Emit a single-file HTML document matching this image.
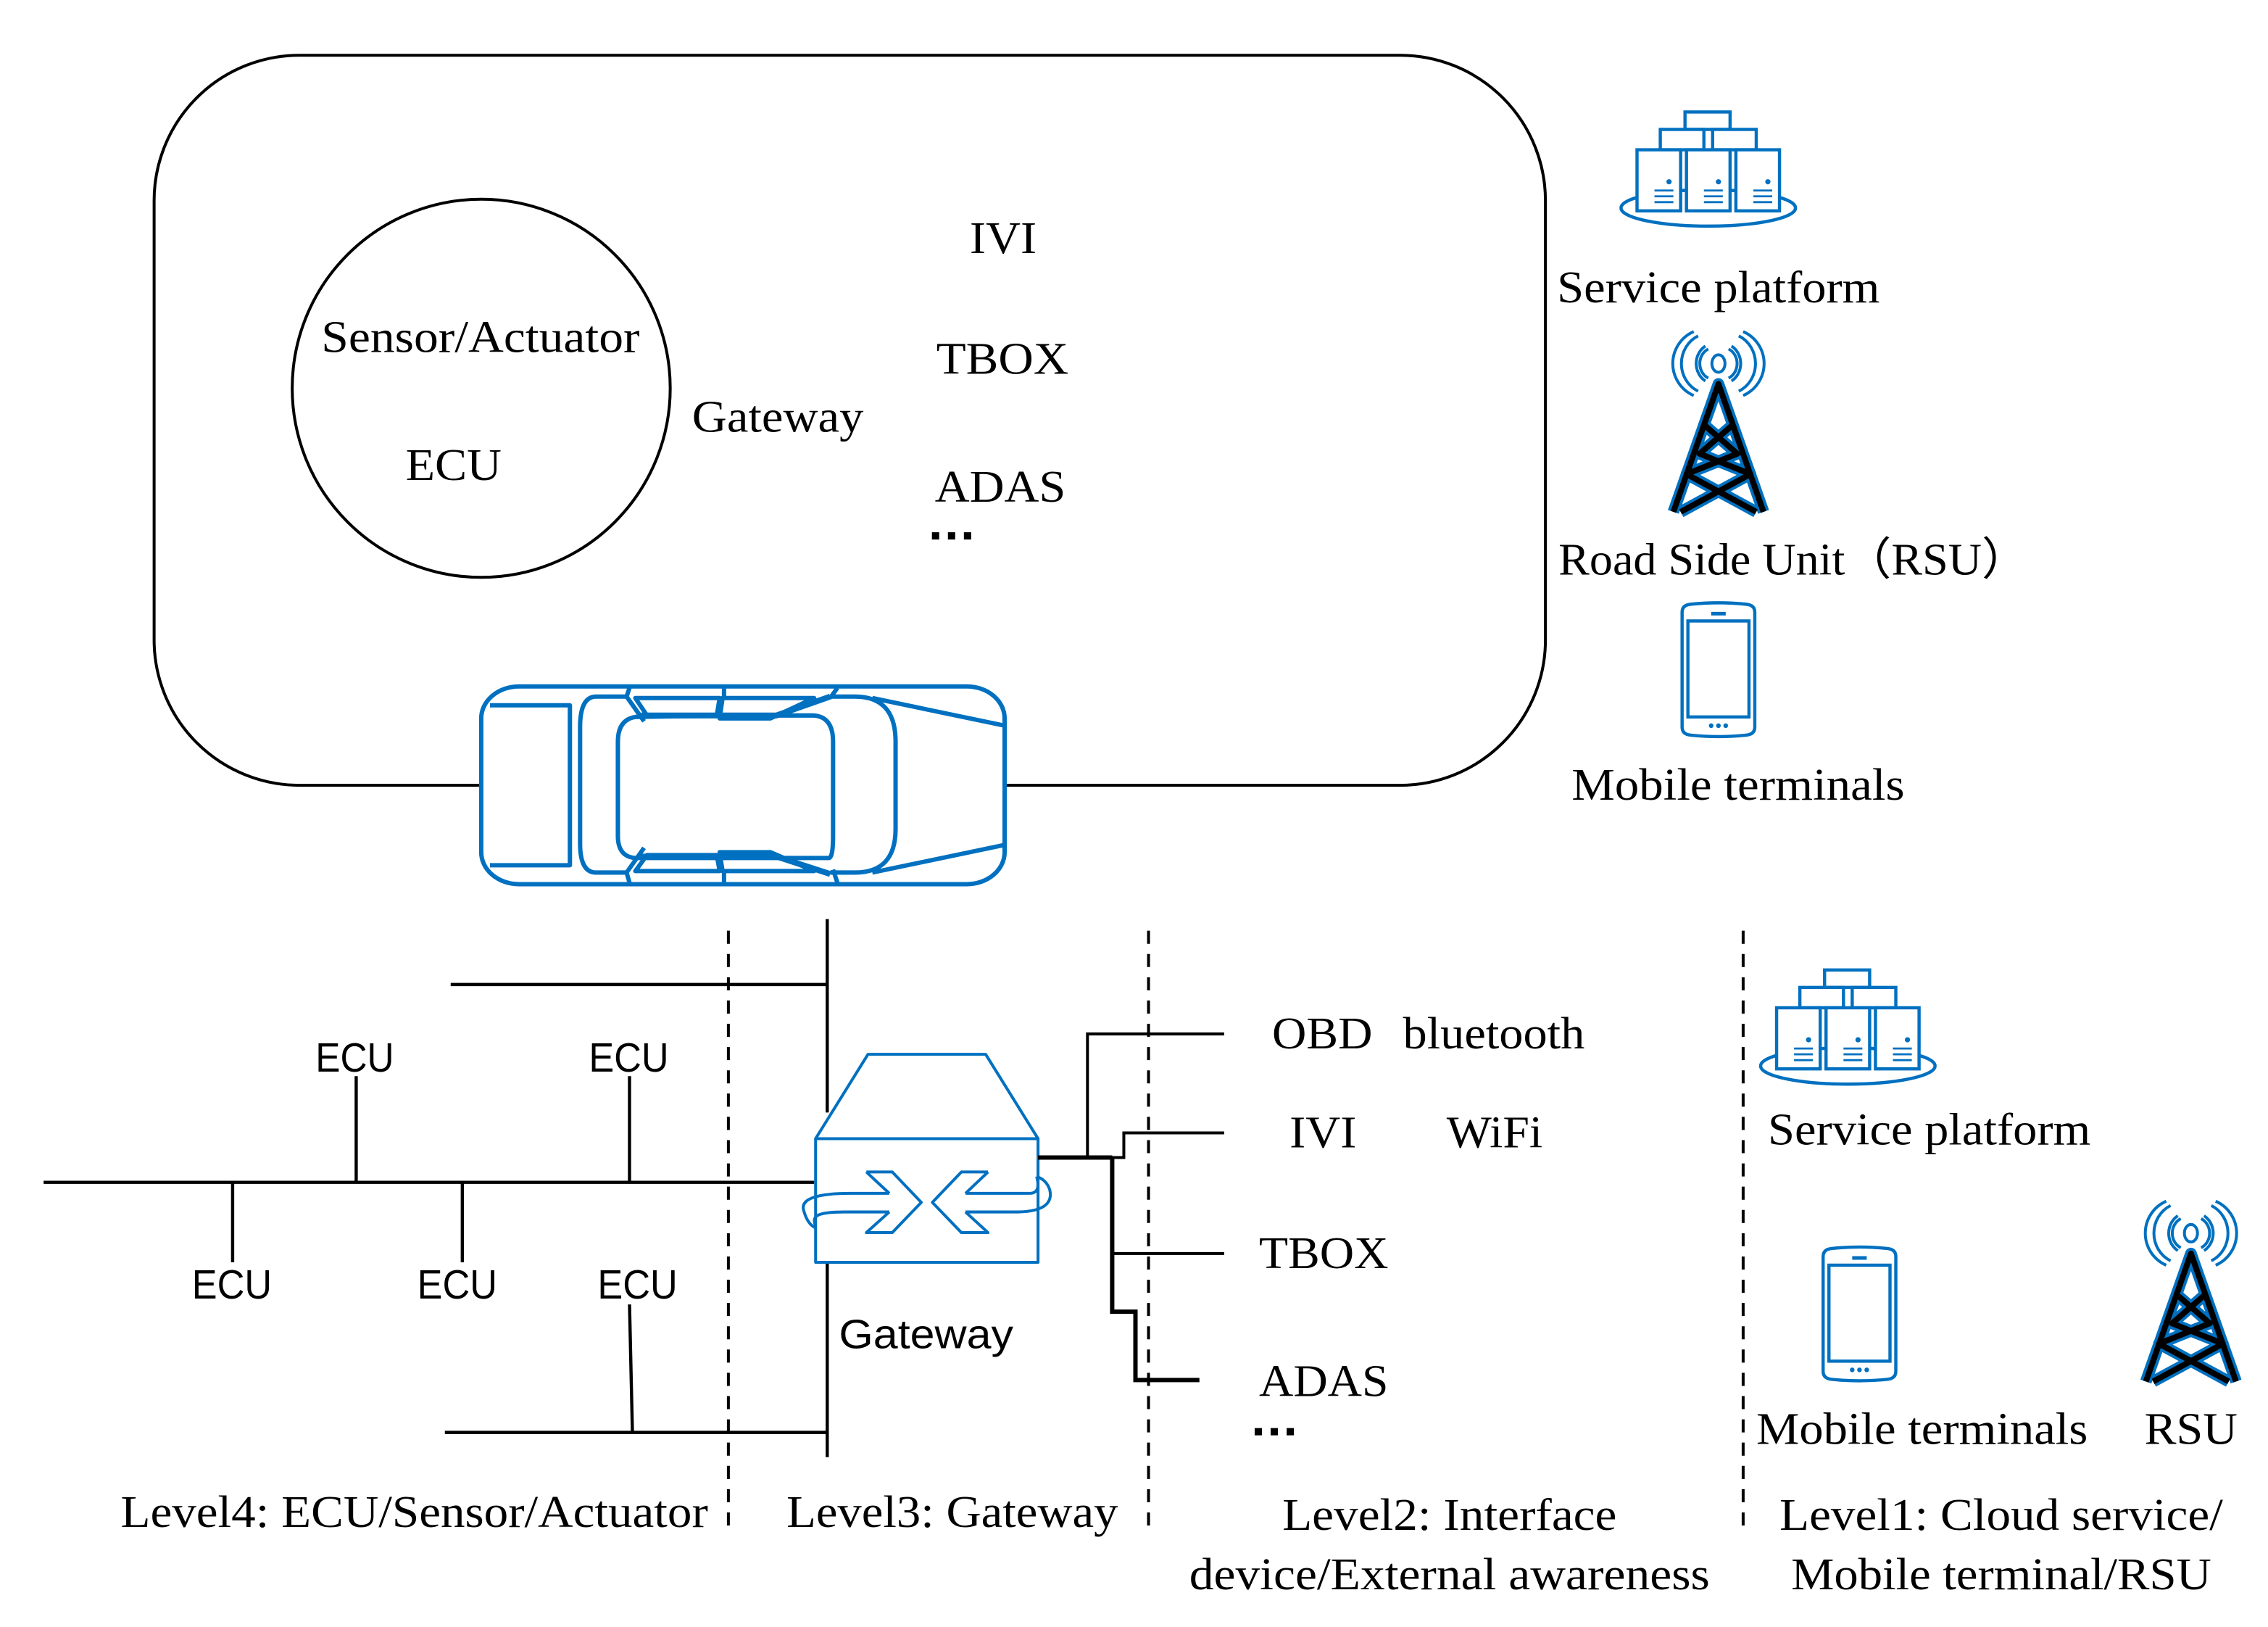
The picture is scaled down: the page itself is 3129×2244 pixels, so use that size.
<!DOCTYPE html>
<html><head><meta charset="utf-8"><style>
html,body{margin:0;padding:0;background:#fff;}
svg{display:block;}
.s{font-family:"Liberation Serif",serif;font-size:31px;fill:#000;}
.a{font-family:"Liberation Sans",sans-serif;font-size:28px;fill:#000;}
</style></head><body>
<svg width="3129" height="2244" viewBox="0 0 1560 1118.8" preserveAspectRatio="none" xmlns="http://www.w3.org/2000/svg">
<defs>
<g id="srv" fill="#fff" stroke="#0070C0" stroke-width="2.2">
  <ellipse cx="0" cy="0" rx="60" ry="12.5"/>
  <rect x="-16" y="-66" width="31" height="12"/>
  <rect x="-33" y="-54" width="30" height="14"/>
  <rect x="3" y="-54" width="30" height="14"/>
  <rect x="-49" y="-40" width="30" height="42"/>
  <rect x="-15" y="-40" width="30" height="42"/>
  <rect x="19" y="-40" width="30" height="42"/>
  <g fill="#0070C0" stroke="none">
   <circle cx="-27" cy="-18" r="1.8"/><circle cx="7" cy="-18" r="1.8"/><circle cx="41" cy="-18" r="1.8"/>
  </g>
  <path d="M-37,-12h13M-37,-8h13M-37,-4h13M-3,-12h13M-3,-8h13M-3,-4h13M31,-12h13M31,-8h13M31,-4h13" stroke-width="1.4"/>
</g>
<g id="twr">
  <g fill="none" stroke="#0070C0" stroke-width="2">
    <ellipse cx="0" cy="-14" rx="4.5" ry="6"/>
    <path d="M-9,-26 A13,14 0 0 0 -9,-2 M-7,-24 A10,11 0 0 0 -7,-4"/>
    <path d="M9,-26 A13,14 0 0 1 9,-2 M7,-24 A10,11 0 0 1 7,-4"/>
    <path d="M-17,-36 A24,24 0 0 0 -17,8 M-14,-33 A20,21 0 0 0 -14,5"/>
    <path d="M17,-36 A24,24 0 0 1 17,8 M14,-33 A20,21 0 0 1 14,5"/>
  </g>
  <g fill="none" stroke-linejoin="round">
    <path d="M-31,88 L0,0 L31,88 M-10,28 L13,48 L-22,62 L26,88 M10,28 L-13,48 L22,62 L-26,88" stroke="#0070C0" stroke-width="8"/>
    <path d="M-31,88 L0,0 L31,88 M-10,28 L13,48 L-22,62 L26,88 M10,28 L-13,48 L22,62 L-26,88" stroke="#000" stroke-width="4"/>
  </g>
</g>
<g id="ph" fill="none" stroke="#0070C0" stroke-width="2.2">
  <path d="M0,6 Q0,1 6,0.5 Q25,-1.5 44,0.5 Q50,1 50,6 V85 Q50,90 44,90.5 Q25,92.5 6,90.5 Q0,90 0,85 Z"/>
  <rect x="4" y="12" width="42" height="66"/>
  <path d="M20,7 H30" stroke-width="2.5"/>
  <g fill="#0070C0" stroke="none"><circle cx="20" cy="84" r="1.6"/><circle cx="25" cy="84" r="1.6"/><circle cx="30" cy="84" r="1.6"/></g>
</g>
</defs>

<rect x="106" y="38" width="957" height="502" rx="100" ry="100" fill="none" stroke="#000" stroke-width="2"/>
<circle cx="331" cy="267" r="130" fill="none" stroke="#000" stroke-width="2"/>
<text class="s" x="221" y="242" textLength="219" lengthAdjust="spacingAndGlyphs">Sensor/Actuator</text>
<text class="s" x="279" y="330" textLength="66" lengthAdjust="spacingAndGlyphs">ECU</text>
<text class="s" x="476" y="297" textLength="118" lengthAdjust="spacingAndGlyphs">Gateway</text>
<text class="s" x="667" y="174" textLength="46" lengthAdjust="spacingAndGlyphs">IVI</text>
<text class="s" x="644" y="257" textLength="91" lengthAdjust="spacingAndGlyphs">TBOX</text>
<text class="s" x="643" y="345" textLength="90" lengthAdjust="spacingAndGlyphs">ADAS</text>
<g fill="#000"><rect x="641" y="366" width="5" height="5"/><rect x="652" y="366" width="5" height="5"/><rect x="663" y="366" width="5" height="5"/></g>

<rect x="330" y="471" width="362" height="138" fill="#fff"/>
<g fill="none" stroke="#0070C0" stroke-width="3" stroke-linejoin="round">
  <rect x="331" y="472" width="360" height="136" rx="26" ry="22"/>
  <path d="M337,485 H392 V595 H337"/>
  <path d="M431,479 H410 Q399,479 399,500 V580 Q399,600 410,600 H431 L443,583 M431,479 L443,496"/>
  <path d="M437,493 Q425,495 425,510 V575 Q425,589 437,590 L500,590 H570 Q573,590 573,575 V510 Q573,493 560,492 L500,492 Z"/>
  <path d="M571,479 H588 Q616,479 616,510 V570 Q616,600 588,600 H571"/>
  <path d="M600,480 L691,499 M600,600 L691,581"/>
  <path d="M437,480 H495 L493,492 H445 Z M497,480 H560 L530,494 H495 Z"/>
  <path d="M437,599 H495 L493,588 H445 Z M497,599 H560 L530,586 H495 Z"/>
  <path d="M433,473 L431,479 M498,473 V480 M576,473 L571,480 M433,607 L431,600 M498,607 V600 M576,607 L573,598"/>
  <path d="M441,492 L534,492 L571,479 M441,589 L534,589 L571,601" stroke-width="4"/>
</g>

<use href="#srv" x="1175" y="143"/>
<text class="s" x="1071" y="208" textLength="222" lengthAdjust="spacingAndGlyphs">Service platform</text>
<use href="#twr" x="1182" y="264"/>
<text class="s" x="1072" y="395" textLength="323" lengthAdjust="spacingAndGlyphs">Road Side Unit（RSU）</text>
<use href="#ph" x="1157" y="415"/>
<text class="s" x="1081" y="550" textLength="229" lengthAdjust="spacingAndGlyphs">Mobile terminals</text>

<g stroke="#000" stroke-width="2" stroke-dasharray="9,7">
  <line x1="501" y1="640" x2="501" y2="1055"/>
  <line x1="790" y1="640" x2="790" y2="1055"/>
  <line x1="1199" y1="640" x2="1199" y2="1055"/>
</g>

<g stroke="#000" stroke-width="2.2" fill="none">
  <line x1="30" y1="813" x2="560" y2="813"/>
  <line x1="245" y1="740" x2="245" y2="813"/>
  <line x1="433" y1="740" x2="433" y2="813"/>
  <line x1="160" y1="813" x2="160" y2="868"/>
  <line x1="318" y1="813" x2="318" y2="868"/>
  <line x1="433" y1="897" x2="435" y2="985"/>
  <line x1="569" y1="632" x2="569" y2="765"/>
  <line x1="569" y1="868" x2="569" y2="1002"/>
  <line x1="310" y1="677" x2="569" y2="677"/>
  <line x1="306" y1="985" x2="569" y2="985"/>
</g>
<text class="a" x="217" y="737" textLength="54" lengthAdjust="spacingAndGlyphs">ECU</text>
<text class="a" x="405" y="737" textLength="55" lengthAdjust="spacingAndGlyphs">ECU</text>
<text class="a" x="132" y="893" textLength="55" lengthAdjust="spacingAndGlyphs">ECU</text>
<text class="a" x="287" y="893" textLength="55" lengthAdjust="spacingAndGlyphs">ECU</text>
<text class="a" x="411" y="893" textLength="55" lengthAdjust="spacingAndGlyphs">ECU</text>

<g fill="#fff" stroke="#0070C0" stroke-width="2" stroke-linejoin="round">
  <path d="M561,783 L597,725 L678,725 L714,783 Z"/>
  <rect x="561" y="783" width="153" height="85"/>
  <path d="M611.7,820.6 L585,820.6 C560,820.6 550,825 553,833 C555,840 558,843 561,844.3 M611.7,833.4 L581,833.4 C562,833.4 558,836 561,843" fill="none"/>
  <path d="M595.9,805.9 L613.7,805.9 L633.7,826.8 L613.7,847.6 L595.9,847.6 L611.7,833.4 M611.7,820.6 L595.9,805.9" fill="none"/>
  <path d="M679.6,805.9 L661.3,805.9 L641.3,826.8 L661.3,847.6 L679.6,847.6 L664.1,833.4 M664.1,820.6 L679.6,805.9" fill="none"/>
  <path d="M664.1,820.6 L708,820.6 C714,820.6 715,816 713,809 M664.1,833.4 L700,833.4 C720,833 724,826 722,818 C720,812 716,810 713,809" fill="none"/>
</g>
<text class="a" x="577" y="927" textLength="120" lengthAdjust="spacingAndGlyphs">Gateway</text>

<g stroke="#000" fill="none" stroke-linejoin="miter">
  <path d="M714,796 H773 V779 H842" stroke-width="2"/>
  <path d="M748,796 V711 H842" stroke-width="2"/>
  <path d="M765,796 V902 H781 V949 H825" stroke-width="3"/>
  <path d="M765,862 H842" stroke-width="2"/>
  <path d="M714,796 H765" stroke-width="3"/>
</g>
<text class="s" x="875" y="721" textLength="69" lengthAdjust="spacingAndGlyphs">OBD</text>
<text class="s" x="965" y="721" textLength="125" lengthAdjust="spacingAndGlyphs">bluetooth</text>
<text class="s" x="887" y="789" textLength="46" lengthAdjust="spacingAndGlyphs">IVI</text>
<text class="s" x="995" y="789" textLength="66" lengthAdjust="spacingAndGlyphs">WiFi</text>
<text class="s" x="866" y="872" textLength="89" lengthAdjust="spacingAndGlyphs">TBOX</text>
<text class="s" x="866" y="960" textLength="89" lengthAdjust="spacingAndGlyphs">ADAS</text>
<g fill="#000"><rect x="863" y="982" width="5" height="5"/><rect x="874" y="982" width="5" height="5"/><rect x="885" y="982" width="5" height="5"/></g>

<use href="#srv" x="1271" y="733"/>
<text class="s" x="1216" y="787" textLength="222" lengthAdjust="spacingAndGlyphs">Service platform</text>
<use href="#ph" x="1254" y="858"/>
<text class="s" x="1208" y="993" textLength="228" lengthAdjust="spacingAndGlyphs">Mobile terminals</text>
<use href="#twr" x="1507" y="862"/>
<text class="s" x="1475" y="993" textLength="64" lengthAdjust="spacingAndGlyphs">RSU</text>

<text class="s" x="83" y="1050" textLength="404" lengthAdjust="spacingAndGlyphs">Level4: ECU/Sensor/Actuator</text>
<text class="s" x="541" y="1050" textLength="228" lengthAdjust="spacingAndGlyphs">Level3: Gateway</text>
<text class="s" x="882" y="1052" textLength="230" lengthAdjust="spacingAndGlyphs">Level2: Interface</text>
<text class="s" x="818" y="1093" textLength="358" lengthAdjust="spacingAndGlyphs">device/External awareness</text>
<text class="s" x="1224" y="1052" textLength="305" lengthAdjust="spacingAndGlyphs">Level1: Cloud service/</text>
<text class="s" x="1232" y="1093" textLength="289" lengthAdjust="spacingAndGlyphs">Mobile terminal/RSU</text>
</svg>
</body></html>
